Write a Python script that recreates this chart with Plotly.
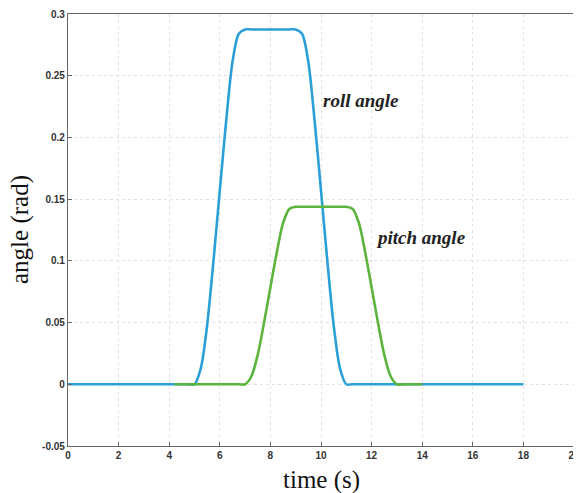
import plotly.graph_objects as go

# --- data ---
roll_t = [0, 4.75, 5.0, 5.25, 5.5, 5.75, 6.0, 6.25, 6.5, 6.75, 7.0, 7.25,
          8.75, 9.0, 9.25, 9.5, 9.75, 10.0, 10.25, 10.5, 10.75, 11.0, 11.25, 18.0]
roll_v = [0, 0, 0, 0.013, 0.048, 0.100, 0.157, 0.213, 0.261, 0.284, 0.2875, 0.2875,
          0.2875, 0.2875, 0.284, 0.261, 0.213, 0.157, 0.100, 0.048, 0.013, 0, 0, 0]

pitch_t = [4.2, 6.75, 7.0, 7.25, 7.5, 7.75, 8.0, 8.25, 8.5, 8.75, 9.0, 9.25,
           10.75, 11.0, 11.25, 11.5, 11.75, 12.0, 12.25, 12.5, 12.75, 13.0, 13.25, 14.0]
pitch_v = [0, 0, 0, 0.0065, 0.024, 0.050, 0.0785, 0.1065, 0.1305, 0.142, 0.1438, 0.1438,
           0.1438, 0.1438, 0.142, 0.1305, 0.1065, 0.0785, 0.050, 0.024, 0.0065, 0, 0, 0]

x_ticks = [0, 2, 4, 6, 8, 10, 12, 14, 16, 18, 20]
y_ticks = [-0.05, 0, 0.05, 0.1, 0.15, 0.2, 0.25, 0.3]
y_tick_text = ["-0.05", "0", "0.05", "0.1", "0.15", "0.2", "0.25", "0.3"]

labels = ["roll angle", "pitch angle"]
label_x = [10.0, 12.1]
label_y = [0.230, 0.119]

x_title = "time (s)"
y_title = "angle (rad)"

blue = "#2b9fd8"
green = "#5bb43b"

fig = go.Figure()
fig.add_trace(go.Scatter(x=roll_t, y=roll_v, mode="lines",
                         line=dict(color=blue, width=2.6, shape="spline", smoothing=0.8),
                         showlegend=False))
fig.add_trace(go.Scatter(x=pitch_t, y=pitch_v, mode="lines",
                         line=dict(color=green, width=2.6, shape="spline", smoothing=0.8),
                         showlegend=False))

for txt, xx, yy in zip(labels, label_x, label_y):
    fig.add_annotation(x=xx, y=yy, text=txt, showarrow=False, xanchor="left",
                       yanchor="middle",
                       font=dict(family="Liberation Serif", size=19,
                                 color="#222222", style="italic", weight="bold"))

# axis titles as paper annotations (keeps plot area fixed)
fig.add_annotation(xref="paper", yref="paper", x=0.5, y=0, yshift=-34,
                   text=x_title, showarrow=False, xanchor="center", yanchor="middle",
                   font=dict(family="Liberation Serif", size=25, color="#111111"))
fig.add_annotation(xref="paper", yref="paper", x=0, y=0.5, xshift=-48,
                   text=y_title, showarrow=False, textangle=-90,
                   xanchor="center", yanchor="middle",
                   font=dict(family="Liberation Serif", size=25, color="#111111"))

axis_common = dict(
    showline=True, linecolor="#666666", linewidth=1.2, mirror=True,
    ticks="inside", ticklen=4, tickcolor="#666666",
    showgrid=True, gridcolor="#e2e2e2", griddash="dot", gridwidth=1,
    zeroline=False, automargin=False,
    tickfont=dict(family="Liberation Sans", size=10, color="#333333", weight="bold"),
)

fig.update_xaxes(range=[0, 20], tickvals=x_ticks, **axis_common)
fig.update_yaxes(range=[-0.05, 0.3], tickvals=y_ticks, ticktext=y_tick_text, **axis_common)

# page body has an 8px margin, so the figure is sized/offset to land the
# plot area where the reference has it
fig.update_layout(
    width=573, height=485,
    margin=dict(l=60, r=7, t=6, b=47),
    paper_bgcolor="white", plot_bgcolor="white",
)

fig.write_html("out.html")
